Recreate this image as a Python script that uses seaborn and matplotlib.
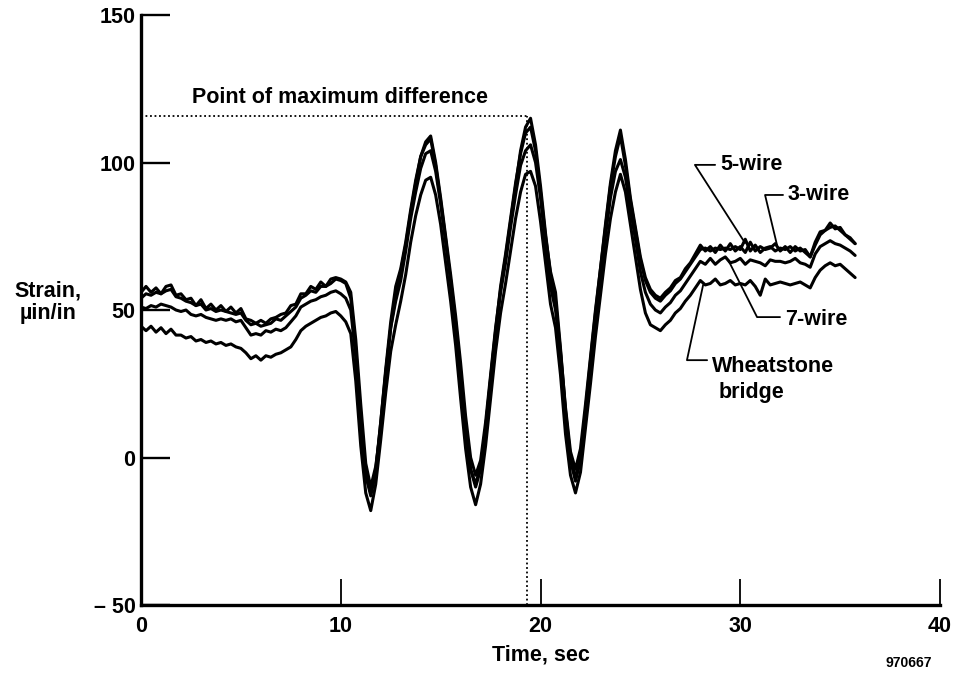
import numpy as np
import pandas as pd
import matplotlib
matplotlib.use("Agg")
import matplotlib.pyplot as plt
import seaborn as sns

# ---------------- data (0.25 s sampling) ----------------
dt = 0.25
wire3 = [
    56, 58, 56, 57.5, 55.5, 58, 58.5, 55,
    55.5, 53.5, 54, 51.5, 53.5, 50.5, 52, 50,
    51.5, 49.5, 51, 49, 50.5, 47, 46.5, 45.5,
    46.5, 45.5, 47, 47.5, 48.5, 49, 51.5, 52,
    55.5, 55.5, 58, 57, 59.5, 58, 60.5, 61,
    60.5, 59.5, 56, 40, 18, -2, -10, -3,
    10, 28, 44, 55, 63, 72, 83, 93,
    102, 107, 109, 100, 88, 75, 62, 48,
    32, 14, 0, -6, -1, 12, 28, 44,
    57, 68, 80, 92, 104, 112, 115, 106,
    92, 76, 62, 53, 36, 17, 2, -4,
    3, 18, 34, 50, 64, 79, 93, 104,
    111, 101, 88, 78, 68, 61, 57, 55,
    54, 56, 57.5, 60, 61, 64, 66, 69,
    72, 70, 71.5, 69.5, 72, 70, 72.5, 70,
    71.5, 69.5, 73, 70, 71.5, 70.5, 71, 72.5,
    70, 71.5, 69.5, 71.5, 70, 70.5, 68, 73,
    76.5, 77, 79.5, 77.5, 78, 75.5, 74.5, 72.5,
]
wire5 = [
    54, 55.5, 55, 56, 55.5, 56.5, 57, 54.5,
    54, 53, 52.5, 51.5, 52, 50, 50.5, 49.5,
    50, 49.5, 49, 48.5, 49, 46.5, 45, 45.5,
    44.5, 45, 45.5, 47, 46.5, 48, 49.5, 51,
    54, 55, 56.5, 56, 58, 58, 59, 60.5,
    60, 59, 54, 37, 14, -6, -13, -5,
    12, 30, 46, 58, 64, 73, 84, 94,
    102, 106, 108, 99, 87, 74, 60, 46,
    29, 11, -4, -9, -3, 10, 27, 43,
    58, 69, 81, 93, 103, 110, 112, 104,
    90, 75, 63, 56, 37, 16, 0, -7,
    0, 16, 33, 49, 64, 78, 92, 102,
    109, 99, 87, 77, 67, 60, 56, 54,
    53, 55, 56.5, 59, 60.5, 63, 65.5, 68,
    70.5, 71, 70, 71, 70.5, 71, 70.5, 71.5,
    70.5, 74, 70, 72, 69.5, 71, 71.5, 70,
    71, 70.5, 71.5, 70, 71, 69.5, 68, 72,
    75.5, 77, 78, 78.5, 77, 75.5, 74, 72.5,
]
wire7 = [
    51, 50.5, 51.5, 51, 52, 51.5, 51, 50,
    49.5, 50, 48.5, 48, 48.5, 47.5, 47, 46.5,
    47, 46.5, 47, 46, 46.5, 44, 41.5, 42,
    41.5, 43, 42.5, 43.5, 43, 44, 46, 48,
    51, 52, 53, 53.5, 54.5, 55, 56, 56.5,
    55.5, 54, 50, 34, 12, -6, -12, -4,
    12, 29, 44, 53, 60, 70, 81, 90,
    98, 103, 104, 97, 86, 73, 60, 45,
    28, 10, -4, -10, -4, 10, 26, 42,
    56, 66, 78, 89, 99, 104, 106, 100,
    88, 72, 58, 50, 35, 15, -1, -8,
    -1, 15, 31, 47, 61, 75, 88, 97,
    101, 95, 84, 74, 63, 56, 52, 50,
    49, 51, 52.5, 55, 56.5, 59, 61.5, 64,
    66.5, 65.5, 67.5, 65.5, 67, 68, 66, 66.5,
    67.5, 65.5, 67, 66.5, 66, 65, 67, 66.5,
    66.5, 66, 66.5, 67.5, 66, 65.5, 64.5, 69,
    71.5, 72.5, 73.5, 72.5, 72, 71, 70, 68.5,
]
wheatstone = [
    44.5, 43, 44.5, 42.5, 44, 42, 43.5, 41.5,
    41.5, 40.5, 41, 39.5, 40, 39, 39.5, 38.5,
    39, 38, 38.5, 37.5, 37, 35.5, 33.5, 34.5,
    33, 34.5, 34, 35, 35.5, 36.5, 37.5, 40,
    43, 44.5, 45.5, 46.5, 47.5, 48, 49, 49.5,
    48, 46, 42, 26, 4, -12, -18, -9,
    6, 22, 36, 45, 53, 62, 73, 82,
    89, 94, 95, 89, 79, 66, 53, 38,
    20, 3, -10, -16, -9, 4, 20, 36,
    49, 59, 70, 81, 90, 96, 97, 92,
    80, 66, 52, 44, 28, 8, -6, -12,
    -5, 10, 25, 41, 55, 69, 81, 90,
    96, 90, 79, 68, 57, 49, 45, 44,
    43, 45, 46.5, 49, 50.5, 53, 55, 57.5,
    60, 58.5, 59, 60.5, 58.5, 59, 60, 58.5,
    59, 58.5, 60, 58, 55, 60.5, 58.5, 59,
    59.5, 59, 58.5, 59, 59.5, 58.5, 57.5, 61,
    63.5, 65, 66, 65, 65.5, 64, 62.5, 61,
]
series_names = ["Wheatstone bridge", "7-wire", "5-wire", "3-wire"]
series_values = [wheatstone, wire7, wire5, wire3]

x_ticks = [0, 10, 20, 30, 40]
x_ticklabels = ["0", "10", "20", "30", "40"]
y_ticks = [-50, 0, 50, 100, 150]
y_ticklabels = ["\u2013 50", "0", "50", "100", "150"]

max_diff_time = 19.3
max_diff_value = 115.8

# ---------------- build long table ----------------
frames = []
for name, vals in zip(series_names, series_values):
    t = np.arange(len(vals)) * dt
    frames.append(pd.DataFrame({"time": t, "strain": vals, "series": name}))
df = pd.concat(frames, ignore_index=True)

# ---------------- plot ----------------
sns.set_theme(style="white")
plt.rcParams['font.family'] = ['Liberation Sans', 'DejaVu Sans']
plt.rcParams['font.weight'] = 'bold'
plt.rcParams['text.color'] = 'black'
plt.rcParams['axes.labelcolor'] = 'black'
FS = 15.5

fig = plt.figure(figsize=(9.6, 6.73), dpi=100)
ax = fig.add_axes([0.1469, 0.1010, 0.8323, 0.8767])

sns.lineplot(data=df, x="time", y="strain", hue="series",
             palette={n: "black" for n in series_names},
             estimator=None, sort=False, legend=False, linewidth=2.2, ax=ax)

ax.set_xlim(0, 40)
ax.set_ylim(-50, 150)
for s in ["top", "right"]:
    ax.spines[s].set_visible(False)
for s in ["left", "bottom"]:
    ax.spines[s].set_color("black")
    ax.spines[s].set_linewidth(2.4)

ax.set_xticks(x_ticks)
ax.set_xticklabels(x_ticklabels)
ax.set_yticks(y_ticks)
ax.set_yticklabels(y_ticklabels)
ax.tick_params(axis="x", bottom=True, direction="in", length=19, width=1.3,
               color="black", labelsize=FS, pad=8)
ax.tick_params(axis="y", left=True, direction="in", length=21, width=1.7,
               color="black", labelsize=FS, pad=4)
for lab in ax.get_xticklabels() + ax.get_yticklabels():
    lab.set_fontweight("bold")
    lab.set_color("black")

ax.set_xlabel("")
ax.set_ylabel("")
fig.text(0.5635, 0.027, "Time, sec", ha="center", va="center", fontsize=FS,
         fontweight="bold", color="black")
fig.text(0.050, 0.551, "Strain,\n\u00b5in/in", ha="center", va="center",
         fontsize=FS, fontweight="bold", linespacing=1.05, color="black")
fig.text(0.922, 0.004, "970667", ha="left", va="bottom", fontsize=10,
         color="black")

# point of maximum difference
dot = (0, (1, 1.5))
ax.plot([0, max_diff_time], [max_diff_value, max_diff_value], color="black",
        lw=1.3, linestyle=dot)
ax.plot([max_diff_time, max_diff_time], [-50, max_diff_value], color="black",
        lw=1.3, linestyle=dot)
ax.text(2.55, 122.2, "Point of maximum difference", ha="left", va="center",
        fontsize=FS, fontweight="bold", color="black")

# curve labels with leader lines
lk = dict(color="black", lw=1.3)
tk = dict(fontsize=FS, fontweight="bold", color="black", va="center", ha="left")
ax.plot([30.24, 27.73, 28.74], [72.7, 99.2, 99.2], **lk)
ax.text(28.99, 99.2, "5-wire", **tk)
ax.plot([31.84, 31.24, 32.14], [72.0, 89.0, 89.0], **lk)
ax.text(32.39, 89.0, "3-wire", **tk)
ax.plot([29.4, 30.84, 31.99], [66.9, 47.6, 47.6], **lk)
ax.text(32.24, 46.8, "7-wire", **tk)
ax.plot([28.14, 27.33, 28.34], [58.5, 33.0, 33.0], **lk)
ax.text(28.6, 30.7, "Wheatstone", **tk)
ax.text(28.89, 22.2, "bridge", **tk)

fig.savefig("out.png", dpi=100)
